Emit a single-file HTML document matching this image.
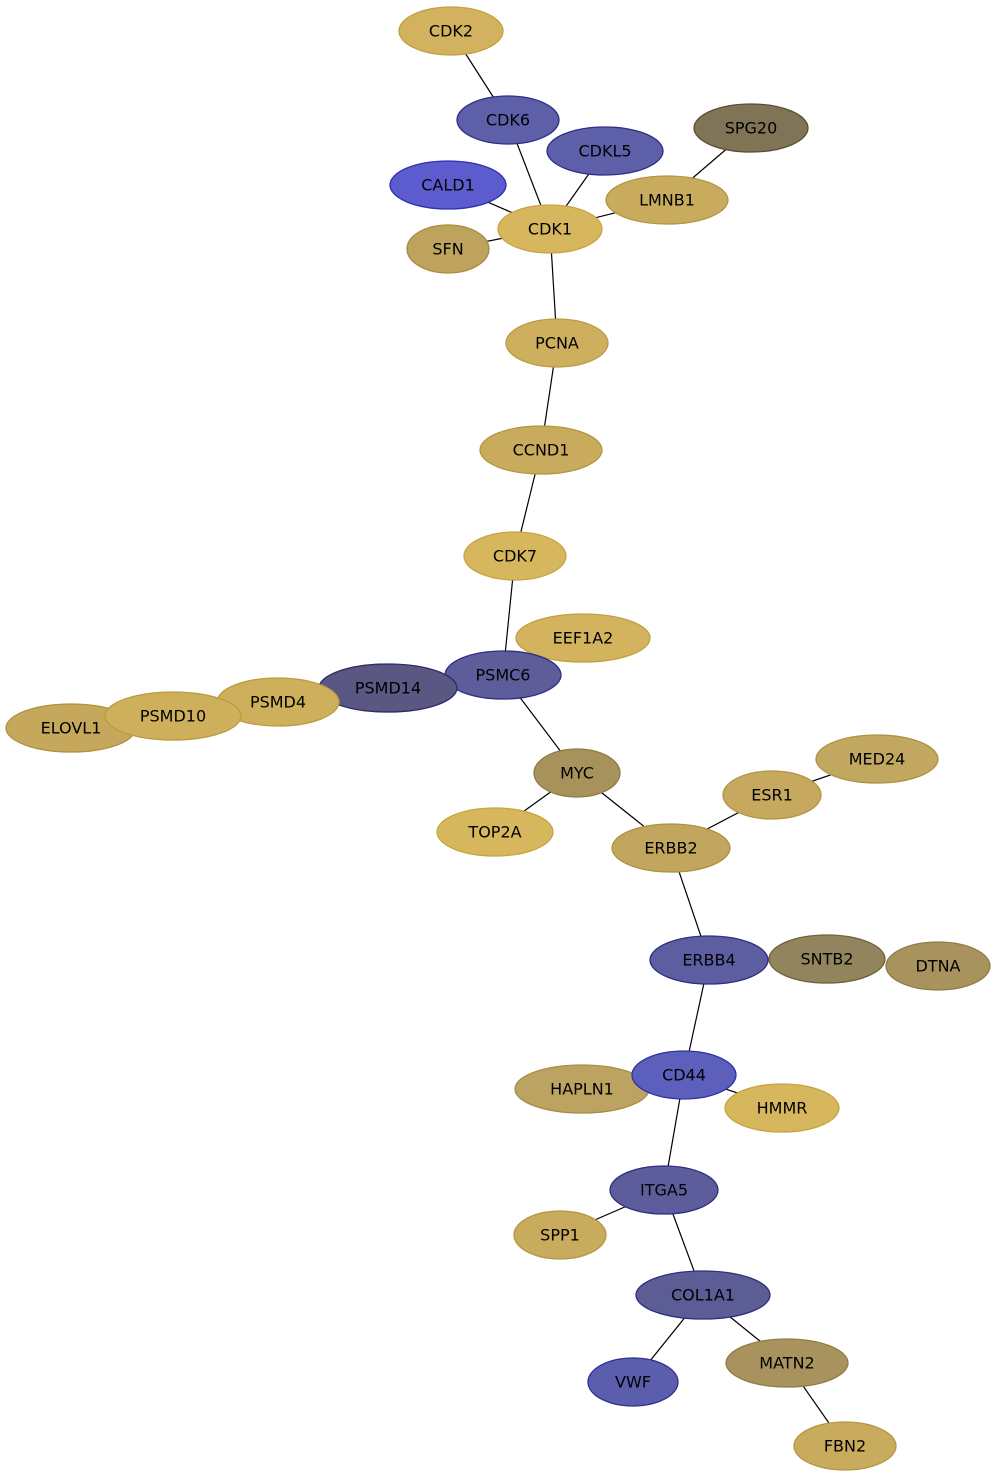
<!DOCTYPE html>
<html><head><meta charset="utf-8"><style>
html,body{margin:0;padding:0;background:#fff;}
svg{display:block}
text{font-family:"DejaVu Sans","Liberation Sans",sans-serif;font-size:16px;text-anchor:middle;dominant-baseline:central;fill:#000}
</style></head><body>
<svg width="998" height="1478" viewBox="0 0 998 1478" xmlns="http://www.w3.org/2000/svg">
<g stroke="#000" stroke-width="1.2">
<line x1="451" y1="31" x2="508" y2="120"/>
<line x1="508" y1="120" x2="550" y2="229"/>
<line x1="605" y1="151" x2="550" y2="229"/>
<line x1="448" y1="185" x2="550" y2="229"/>
<line x1="448" y1="249" x2="550" y2="229"/>
<line x1="667" y1="200" x2="550" y2="229"/>
<line x1="751" y1="128" x2="667" y2="200"/>
<line x1="550" y1="229" x2="557" y2="343"/>
<line x1="557" y1="343" x2="541" y2="450"/>
<line x1="541" y1="450" x2="515" y2="556"/>
<line x1="515" y1="556" x2="503" y2="675"/>
<line x1="503" y1="675" x2="577" y2="773"/>
<line x1="577" y1="773" x2="495" y2="832"/>
<line x1="577" y1="773" x2="671" y2="848"/>
<line x1="671" y1="848" x2="772" y2="795"/>
<line x1="772" y1="795" x2="877" y2="759"/>
<line x1="671" y1="848" x2="709" y2="960"/>
<line x1="709" y1="960" x2="684" y2="1075"/>
<line x1="684" y1="1075" x2="782" y2="1108"/>
<line x1="684" y1="1075" x2="664" y2="1190"/>
<line x1="664" y1="1190" x2="560" y2="1235"/>
<line x1="664" y1="1190" x2="703" y2="1295"/>
<line x1="703" y1="1295" x2="633" y2="1382"/>
<line x1="703" y1="1295" x2="787" y2="1363"/>
<line x1="787" y1="1363" x2="845" y2="1446"/>
</g>
<g stroke-width="1.3">
<ellipse cx="451" cy="31" rx="52" ry="24" fill="#d2b25e" stroke="#c2a040"/>
<ellipse cx="508" cy="120" rx="51" ry="24" fill="#5d5fa8" stroke="#2e2f86"/>
<ellipse cx="605" cy="151" rx="58" ry="24" fill="#5d5fa8" stroke="#2e2f86"/>
<ellipse cx="751" cy="128" rx="57" ry="24" fill="#7f7456" stroke="#5a4f2e"/>
<ellipse cx="448" cy="185" rx="58" ry="24" fill="#5c5ccf" stroke="#2d2fb4"/>
<ellipse cx="667" cy="200" rx="61" ry="24" fill="#c9ab5e" stroke="#b59540"/>
<ellipse cx="550" cy="229" rx="52" ry="24" fill="#d7b75e" stroke="#c7a440"/>
<ellipse cx="448" cy="249" rx="41" ry="24" fill="#bea35c" stroke="#a88d3e"/>
<ellipse cx="557" cy="343" rx="51" ry="24" fill="#ceaf5e" stroke="#bb9b40"/>
<ellipse cx="541" cy="450" rx="61" ry="24" fill="#c9ab5e" stroke="#b59540"/>
<ellipse cx="515" cy="556" rx="51" ry="24" fill="#d7b75e" stroke="#c7a440"/>
<ellipse cx="583" cy="638" rx="67" ry="24" fill="#d3b35e" stroke="#c09f40"/>
<ellipse cx="503" cy="675" rx="58" ry="24" fill="#5d5d9c" stroke="#2e2f80"/>
<ellipse cx="388" cy="688" rx="69" ry="24" fill="#5a5782" stroke="#2e2a66"/>
<ellipse cx="278" cy="702" rx="61" ry="24" fill="#ceaf5c" stroke="#bb9b3c"/>
<ellipse cx="71" cy="728" rx="65" ry="24" fill="#c6a85c" stroke="#b1913c"/>
<ellipse cx="173" cy="716" rx="68" ry="24" fill="#ceaf5c" stroke="#bb9b3c"/>
<ellipse cx="577" cy="773" rx="43" ry="24" fill="#a8925c" stroke="#8f7a40"/>
<ellipse cx="877" cy="759" rx="61" ry="24" fill="#c2a761" stroke="#ae9244"/>
<ellipse cx="772" cy="795" rx="49" ry="24" fill="#c6a95f" stroke="#b19542"/>
<ellipse cx="495" cy="832" rx="58" ry="24" fill="#d7b75e" stroke="#c7a440"/>
<ellipse cx="671" cy="848" rx="59" ry="24" fill="#c2a65e" stroke="#ae9140"/>
<ellipse cx="709" cy="960" rx="59" ry="24" fill="#5d5da2" stroke="#2e2f86"/>
<ellipse cx="827" cy="959" rx="58" ry="24" fill="#92845c" stroke="#6f6236"/>
<ellipse cx="938" cy="966" rx="52" ry="24" fill="#a8935f" stroke="#927c44"/>
<ellipse cx="582" cy="1089" rx="67" ry="24" fill="#bca361" stroke="#a78d44"/>
<ellipse cx="684" cy="1075" rx="52" ry="24" fill="#5c5fbb" stroke="#2e32a0"/>
<ellipse cx="782" cy="1108" rx="57" ry="24" fill="#d7b75e" stroke="#c7a440"/>
<ellipse cx="664" cy="1190" rx="54" ry="24" fill="#5d5d9c" stroke="#2e2f80"/>
<ellipse cx="560" cy="1235" rx="46" ry="24" fill="#c9ab5e" stroke="#b59540"/>
<ellipse cx="703" cy="1295" rx="67" ry="24" fill="#5d5d96" stroke="#2e2f7c"/>
<ellipse cx="787" cy="1363" rx="61" ry="24" fill="#a8935f" stroke="#927c44"/>
<ellipse cx="633" cy="1382" rx="45" ry="24" fill="#5b5dad" stroke="#2e2f90"/>
<ellipse cx="845" cy="1446" rx="51" ry="24" fill="#c9ab5e" stroke="#b59540"/>
</g>
<g>
<text x="451" y="31">CDK2</text>
<text x="508" y="120">CDK6</text>
<text x="605" y="151">CDKL5</text>
<text x="751" y="128">SPG20</text>
<text x="448" y="185">CALD1</text>
<text x="667" y="200">LMNB1</text>
<text x="550" y="229">CDK1</text>
<text x="448" y="249">SFN</text>
<text x="557" y="343">PCNA</text>
<text x="541" y="450">CCND1</text>
<text x="515" y="556">CDK7</text>
<text x="583" y="638">EEF1A2</text>
<text x="388" y="688">PSMD14</text>
<text x="503" y="675">PSMC6</text>
<text x="278" y="702">PSMD4</text>
<text x="173" y="716">PSMD10</text>
<text x="71" y="728">ELOVL1</text>
<text x="577" y="773">MYC</text>
<text x="877" y="759">MED24</text>
<text x="772" y="795">ESR1</text>
<text x="495" y="832">TOP2A</text>
<text x="671" y="848">ERBB2</text>
<text x="709" y="960">ERBB4</text>
<text x="827" y="959">SNTB2</text>
<text x="938" y="966">DTNA</text>
<text x="582" y="1089">HAPLN1</text>
<text x="684" y="1075">CD44</text>
<text x="782" y="1108">HMMR</text>
<text x="664" y="1190">ITGA5</text>
<text x="560" y="1235">SPP1</text>
<text x="703" y="1295">COL1A1</text>
<text x="787" y="1363">MATN2</text>
<text x="633" y="1382">VWF</text>
<text x="845" y="1446">FBN2</text>
</g>
</svg>
</body></html>
